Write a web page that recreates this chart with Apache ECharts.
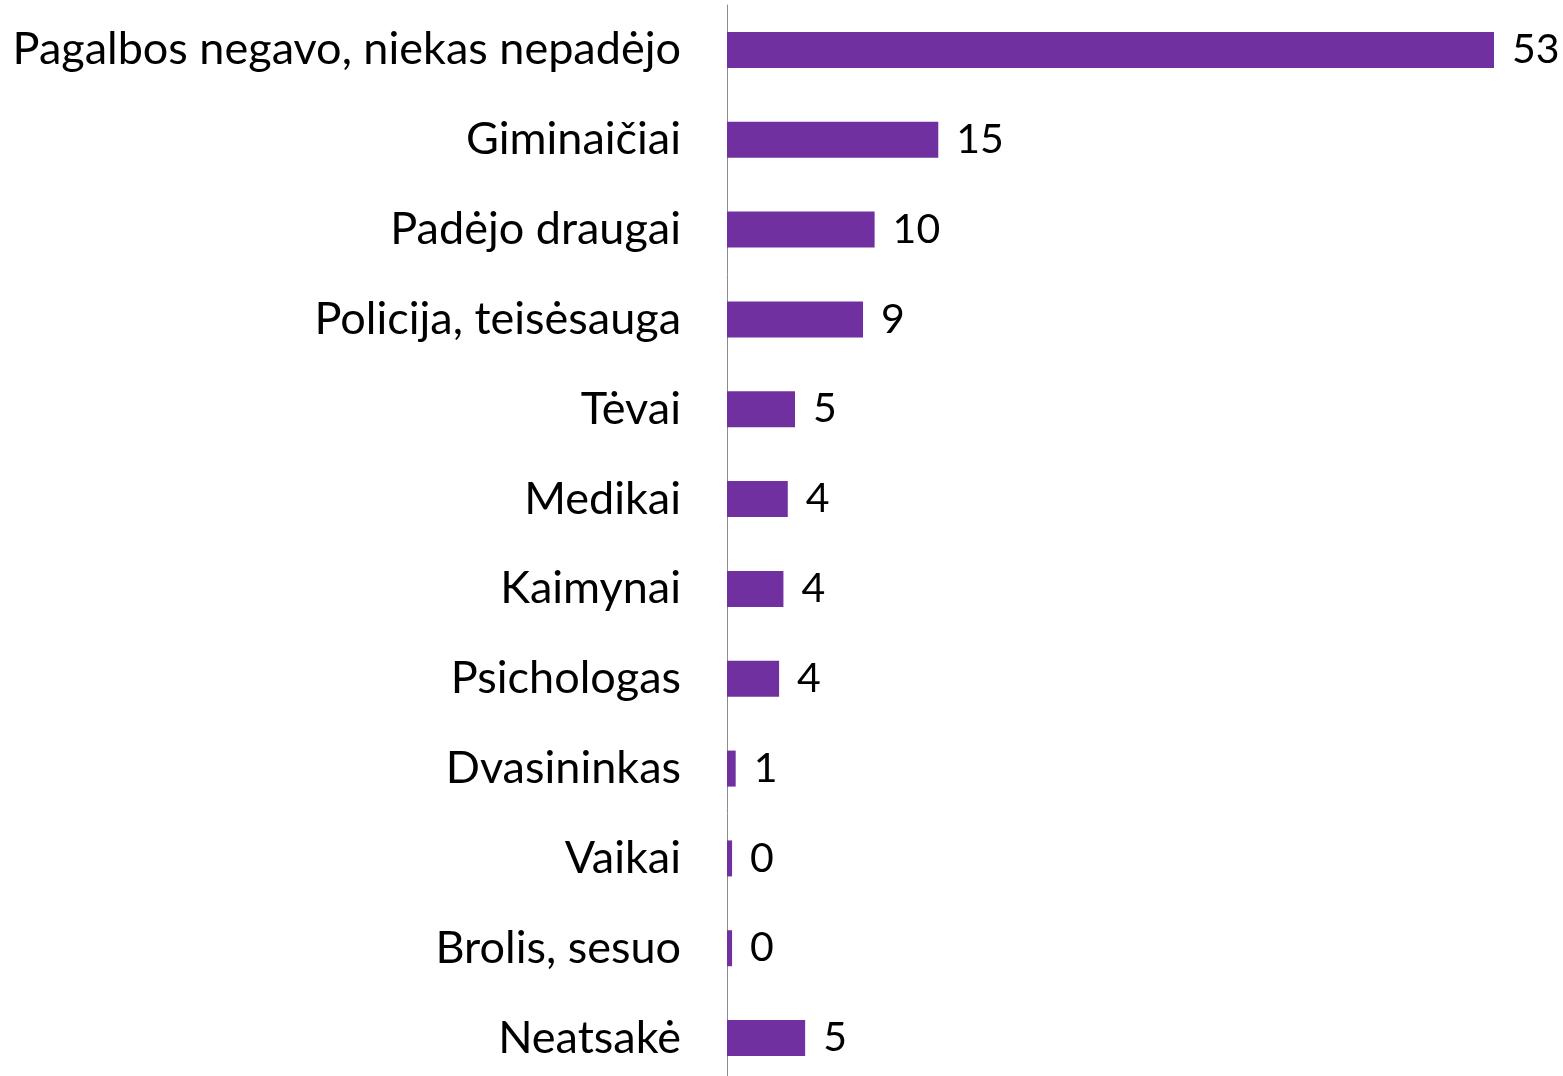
<!DOCTYPE html>
<html>
<head>
<meta charset="utf-8">
<script src="https://cdn.jsdelivr.net/npm/echarts@6/dist/echarts.min.js"></script>
<style>
html, body { margin: 0; padding: 0; background: #fff; overflow: hidden; }
#chart { width: 1563px; height: 1090px; }
</style>
</head>
<body>
<div id="chart"></div>
<script>
// kategorijos (iš viršaus į apačią)
var categories = [
	'Pagalbos negavo, niekas nepadėjo',
	'Giminaičiai',
	'Padėjo draugai',
	'Policija, teisėsauga',
	'Tėvai',
	'Medikai',
	'Kaimynai',
	'Psichologas',
	'Dvasininkas',
	'Vaikai',
	'Brolis, sesuo',
	'Neatsakė'
];
// reikšmės (%), etiketėse rodomos suapvalintos
var values = [53, 14.6, 10.2, 9.4, 4.7, 4.2, 3.9, 3.6, 0.6, 0.35, 0.35, 5.4];

var chart = echarts.init(document.getElementById('chart'));
var option = {
	animation: false,
	grid: {
		left: 727,
		right: 69,
		top: 5,
		height: 1078
	},
	xAxis: {
		type: 'value',
		min: 0,
		max: Math.max.apply(null, values),
		show: false
	},
	yAxis: {
		type: 'category',
		inverse: true,
		data: categories,
		axisTick: { show: false },
		axisLine: { lineStyle: { color: '#8c8c8c', width: 1 } },
		axisLabel: {
			margin: 46,
			fontFamily: 'Lato',
			fontSize: 45,
			color: '#000'
		}
	},
	series: [{
		type: 'bar',
		data: values,
		barWidth: 36,
		itemStyle: { color: '#7030A0' },
		label: {
			show: true,
			position: 'right',
			distance: 18,
			fontFamily: 'Lato',
			fontSize: 41,
			color: '#000',
			formatter: function (p) { return Math.round(p.value); }
		}
	}]
};
chart.setOption(option);
</script>
</body>
</html>
